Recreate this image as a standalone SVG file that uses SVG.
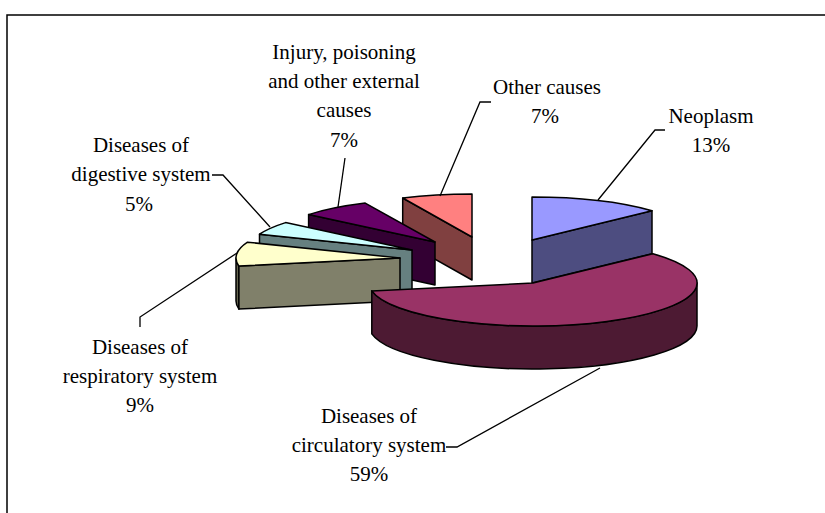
<svg xmlns="http://www.w3.org/2000/svg" width="825" height="513" viewBox="0 0 825 513">
<style>
.s{stroke:#000;stroke-width:1.5;stroke-linejoin:round}
.l{fill:none;stroke:#000;stroke-width:1.3}
text{font-family:"Liberation Serif","Times New Roman",serif;font-size:21px;fill:#000;text-anchor:middle}
</style>
<rect width="825" height="513" fill="#fff"/>
<path d="M7,513 V15 H825" fill="none" stroke="#000" stroke-width="1.5"/>
<g id="other">
<path class="s" fill="#804040" d="M402.7,198 L472,237 L472,280 L402.7,241 Z"/>
<path class="s" fill="#FF8080" d="M472,237 L402.7,198 A164,43 0 0,1 472,194 Z"/>
</g>
<g id="injury">
<path class="s" fill="#330033" d="M308.6,214.6 L435,242 L435,285 L308.6,257.6 Z"/>
<path class="s" fill="#660066" d="M435,242 L308.6,214.6 A164,43 0 0,1 365.2,203.1 Z"/>
</g>
<g id="digestive">
<path class="s" fill="#668080" d="M259.5,234.2 L412,250 L412,293 L259.5,277.2 Z"/>
<path class="s" fill="#CCFFFF" d="M412,250 L259.5,234.2 A164,43 0 0,1 285.6,222.6 Z"/>
</g>
<g id="respiratory">
<path class="s" fill="#666650" d="M238.9,266.1 A164,43 0 0,1 236,258 L236,301 A164,43 0 0,0 238.9,309.1 Z"/>
<path class="s" fill="#80806A" d="M238.9,266.1 L400,258 L400,301 L238.9,309.1 Z"/>
<path class="s" fill="#FFFFCC" d="M400,258 L238.9,266.1 A164,43 0 0,1 247.5,242.2 Z"/>
</g>
<g id="neoplasm">
<path class="s" fill="#4D4D80" d="M532,240 L652,210.7 L652,253.7 L532,283 Z"/>
<path class="s" fill="#9999FF" d="M532,240 L532,197 A164,43 0 0,1 652,210.7 Z"/>
</g>
<g id="circulatory">
<path class="s" fill="#4D1A33" d="M697,283 A164,43 0 0,1 371.8,290.9 L371.8,333.9 A164,43 0 0,0 697,326 Z"/>
<path class="s" fill="#993366" d="M533,283 L652.9,253.7 A164,43 0 1,1 371.8,290.9 Z"/>
</g>
<g id="connectors">
<path class="l" d="M446,447 H457 L600,368"/>
<path class="l" d="M665,130 H655 L598,200"/>
<path class="l" d="M491,102 H480 L440,196"/>
<path class="l" d="M345,158 L338,207"/>
<path class="l" d="M212,175 H223 L270,227"/>
<path class="l" d="M140,327 V317 L237,253"/>
</g>
<g id="labels">
<text x="344" y="59">Injury, poisoning</text>
<text x="344" y="88">and other external</text>
<text x="344" y="117">causes</text>
<text x="344" y="147">7%</text>
<text x="547" y="94">Other causes</text>
<text x="545" y="123">7%</text>
<text x="711" y="123">Neoplasm</text>
<text x="711" y="152">13%</text>
<text x="141" y="152">Diseases of</text>
<text x="141" y="181">digestive system</text>
<text x="139" y="211">5%</text>
<text x="140" y="354">Diseases of</text>
<text x="140" y="383">respiratory system</text>
<text x="140" y="412">9%</text>
<text x="369" y="423">Diseases of</text>
<text x="369" y="452">circulatory system</text>
<text x="369" y="481">59%</text>
</g>
</svg>
